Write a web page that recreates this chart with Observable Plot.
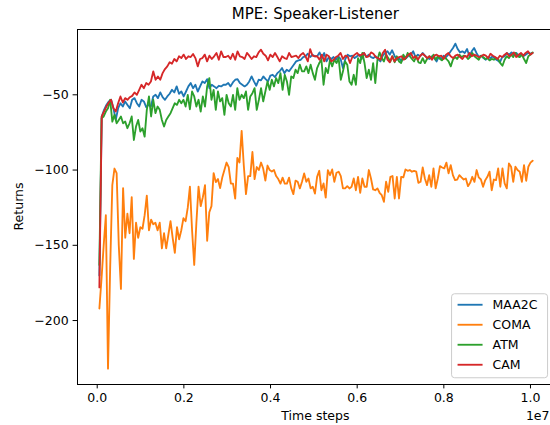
<!DOCTYPE html>
<html><head><meta charset="utf-8">
<script src="https://cdn.jsdelivr.net/npm/d3@7"></script>
<script src="https://cdn.jsdelivr.net/npm/@observablehq/plot@0.6"></script>
<style>body{margin:0;overflow:hidden;background:#fff} svg{display:block}</style>
</head><body><div id="chart"></div>
<script>
const title = "MPE: Speaker-Listener";
const xLabel = "Time steps";
const yLabel = "Returns";
const xOffsetLabel = "1e7";
const series = ["MAA2C", "COMA", "ATM", "CAM"];
const colors = ["#1f77b4", "#ff7f0e", "#2ca02c", "#d62728"];
const xTicks = [0, 0.2, 0.4, 0.6, 0.8, 1.0];
const yTicks = [-200, -150, -100, -50];
const firstStep = 0.005, lastStep = 1.005; // in units of 1e7

const maa2c = [-170,-64.4,-60,-56.7,-54.4,-53.3,-58.9,-66.7,-58.9,-55.6,-57.8,-54.4,-56.7,-58.9,-53.3,-52.2,-55.6,-57.8,-53.3,-54.4,-58.2,-56.7,-57.8,-51.1,-50,-52.2,-48.4,-51.6,-53.3,-51.1,-49.3,-46.7,-48.4,-44.4,-49.3,-47.8,-51.1,-47.8,-44.4,-42.2,-45.6,-43.3,-47.8,-44.4,-41.1,-42.2,-39.6,-45.6,-43.3,-44.4,-45.6,-44,-44.4,-43.3,-43.3,-42.2,-44.4,-41.8,-40,-39.6,-42.2,-43.3,-44.4,-43.3,-41.1,-37.8,-41.1,-44,-40,-40.4,-37.8,-39.6,-41.1,-37.3,-36.7,-38.2,-35.6,-34.4,-32.2,-35.6,-33.3,-34.4,-32.2,-30,-27.8,-27.1,-26.7,-24.9,-24.4,-22.7,-24.9,-23.3,-24.4,
-24.4,-21.8,-25.6,-22.2,-27.8,-24.9,-26.2,-24.9,-26.7,-24.4,-26.2,-32.2,-26.2,-23.3,-24.4,-24,-25.6,-24.4,-23.3,-26.2,-22.2,-24.9,-23.3,-24.9,-25.6,-24.4,-26.2,-27.8,-24,-22.2,-21.1,-23.3,-20.4,-24,-26.7,-25.6,-27.8,-24.4,-25.6,-24,-23.3,-21.1,-24.9,-23.3,-24.4,-22.2,-24,-25.6,-26.2,-24.4,-25.6,-27.8,-24.4,-26.2,-24,-24.9,-23.3,-21.1,-18.9,-16,-19.6,-21.8,-21.1,-22.2,-19.6,-24.4,-21.1,-18.9,-22.2,-24.9,-24,-25.6,-26.7,-24.9,-25.6,-24.4,-26.2,-27.1,-28.4,-24.9,-24.4,-22.2,-23.3,-21.8,-23.3,-22.2,-24,-22.7,-24.4,-23.3,-22.2,-22.7,-22.2];

const coma = [-192,-172,-150,-130,-232,-165,-110,-99,-102,-150,-179,-112,-145,-129,-142,-118,-159,-135,-145,-138,-139,-130,-117,-140,-133,-136,-135,-140,-135,-152,-142,-152,-143,-134,-145,-155,-138,-146,-140,-132,-134,-125,-111,-140,-163,-135,-111,-124,-118,-110,-147,-128,-124,-102,-108,-106,-112,-105,-100,-95,-98,-109,-109,-119,-92,-95,-74,-97,-116,-104,-104,-88,-106,-98,-100,-95,-99,-107,-97,-100,-101,-100,-104,-106,-109,-105,-109,-109,-105,-112,-116,-107,
-107.8,-112.2,-107.8,-102.2,-107.8,-105.6,-112.2,-111.1,-115.6,-104.5,-100.5,-113.4,-108.9,-118.3,-100,-103.4,-99.6,-107.8,-101.8,-101.1,-104,-112.2,-112.2,-110.7,-112.2,-111.1,-105.6,-113.4,-104.5,-115.1,-105.6,-111.1,-111.1,-100,-105.6,-112.9,-113.4,-112.2,-115.1,-116.7,-121.1,-107.8,-114.5,-104.5,-104,-118.9,-104.5,-118.9,-104.5,-104.9,-99.6,-100.5,-100,-101.1,-100.5,-101.1,-108.5,-107.8,-98.3,-105.6,-110,-103.4,-111.1,-98.9,-112.2,-105.6,-97.4,-98.3,-98.9,-95.1,-102.2,-96.7,-103.4,-106.7,-106.3,-103.4,-104.9,-106.3,-105.6,-110.7,-108.5,-104.5,-107.8,-100,-104.9,-106.3,-111.1,-106.7,-104.5,-101.1,-113.4,-106.3,-106.7,-98.9,-111.1,-98.9,-108.9,-112.2,-95.6,-97.8,-107.8,-97.8,-100,-101.1,-107.8,-96.7,-107.1,-97.8,-95.1,-93.8];

const atm = [-163,-65.6,-64.4,-61.1,-58.9,-53.3,-67.8,-63.3,-68.9,-66.7,-64.4,-68.9,-67.8,-72.2,-68.9,-64.4,-80,-71.1,-66.7,-74.4,-72.2,-77.8,-60,-51.1,-64.4,-53.3,-62.2,-57.8,-60,-66.7,-71.1,-66.7,-64.4,-62.2,-58.9,-55.6,-56.7,-53.3,-55.6,-53.3,-57.8,-50,-59.6,-47.8,-51.1,-57.8,-53.3,-61.1,-51.1,-57.8,-44.4,-38.9,-53.3,-46.7,-60,-47.8,-54.4,-52.2,-63.3,-50,-55.6,-57.8,-50,-60,-45.6,-53.3,-50,-52.2,-47.8,-60,-51.1,-48.9,-45.6,-60,-53.3,-45.6,-54.4,-47.8,-41.1,-46.7,-40,-44.4,-38.9,-42.2,-35.6,-46.7,-36.7,-41.1,-50,-37.8,-38.9,-33.3,-35.6,-30,-34.4,-34.4,-31.1,-35.6,-30,-35.6,-40,-32.2,-28.9,-26.7,
-43.3,-32.2,-35.6,-26.7,-31.1,-26.7,-28.9,-25.6,-40,-34.4,-27.8,-30,-41.1,-43.3,-36.7,-43.3,-25.6,-28.9,-22.2,-28.9,-38.9,-33.3,-40,-28.9,-42.2,-26.7,-21.8,-25.6,-27.8,-23.3,-25.6,-27.8,-24.4,-28.4,-24.4,-27.8,-28.9,-23.3,-26.2,-22.2,-24.4,-26.2,-27.8,-24.4,-28.4,-28.9,-25.6,-28.9,-26.2,-24.4,-25.6,-23.3,-26.7,-24.4,-26.2,-27.1,-24.9,-26.2,-27.8,-31.1,-26.7,-24.9,-26.2,-23.3,-24.9,-24,-24.4,-26.2,-24.9,-22.2,-24.4,-25.6,-26.7,-24,-24.9,-26.2,-25.6,-27.1,-26.2,-26.7,-25.6,-26.2,-28.9,-30.7,-26.7,-24.4,-25.6,-23.3,-24.9,-22.2,-24.4,-24.9,-23.3,-26.2,-28.9,-24.4,-23.3,-21.8];

const cam = [-178,-64.4,-61.1,-57.8,-55.1,-53.3,-58.9,-61.1,-55.6,-51.1,-55.1,-52.2,-53.3,-51.6,-50.7,-48.4,-50,-46.7,-43.3,-45.6,-42.2,-43.3,-41.1,-34.4,-40,-37.8,-40,-35.6,-32.9,-31.1,-28.4,-29.3,-26.2,-27.8,-24.4,-25.6,-23.3,-26.2,-24.4,-24.9,-22.9,-25.6,-31.1,-26.2,-25.6,-23.3,-27.8,-24,-26.2,-24.4,-22.2,-26.7,-21.1,-24.9,-24.9,-24,-26.2,-22.7,-26.7,-21.1,-24.4,-24.9,-26.2,-22.2,-24,-26.2,-24.4,-24.9,-21.8,-20,-22.7,-24,-27.1,-23.3,-24.9,-22.2,-24.9,-27.8,-24.4,-25.6,-26.2,-22.2,-24.9,-24.4,-24,-25.6,-23.3,-22.2,-24.4,-27.8,-19.6,-24,-24.4,
-24.4,-26.7,-23.3,-27.8,-23.3,-24.4,-27.8,-26.7,-24.9,-24,-22.2,-26.2,-24,-24.4,-28.9,-24.9,-23.3,-22.2,-24,-23.3,-22.2,-24.9,-24.4,-21.8,-22.7,-24.9,-25.6,-26.7,-22.2,-20,-26.7,-28.4,-24.4,-27.8,-25.6,-24.9,-24.4,-26.7,-24.9,-23.3,-22.2,-25.6,-24.4,-26.7,-24,-22.7,-24,-25.6,-24.4,-26.7,-24,-23.3,-24.4,-24,-26.2,-23.3,-22.2,-24.4,-25.6,-24,-23.3,-24.9,-26.2,-24,-24.9,-22.2,-24.4,-23.3,-24,-24.9,-24.4,-23.3,-24,-25.6,-22.7,-24,-24.9,-26.2,-24,-24.9,-23.3,-22.2,-24.4,-23.3,-21.8,-24.9,-23.3,-22.2,-24,-22.2,-21.1,-23.3,-22.2];

const rows = [];
[maa2c, coma, atm, cam].forEach((vals, k) => {
  const n = vals.length;
  vals.forEach((v, i) => rows.push({series: series[k], step: firstStep + (lastStep - firstStep) * i / (n - 1), value: v}));
});

const W = 550, H = 425, mL = 77, mT = 29, mB = 41, mR = 0;
const xDomain = [-0.0455, 1.0462];  // visible part; full axis extends to 1.055
const xFullMax = 1.055;
const yDomain = [-242.5, -6.6];
const font = "DejaVu Sans";

const chart = Plot.plot({
  width: W, height: H, marginLeft: mL, marginRight: mR, marginTop: mT, marginBottom: mB,
  style: {fontFamily: font, fontSize: "12.5px", color: "#000", background: "#fff", overflow: "visible"},
  x: {domain: xDomain, label: null},
  y: {domain: yDomain, label: null},
  color: {domain: series, range: colors},
  marks: [
    Plot.lineY(rows, {x: "step", y: "value", stroke: "series", z: "series", strokeWidth: 1.85}),
    Plot.ruleX([xDomain[0]], {stroke: "#000", strokeWidth: 1}),
    Plot.ruleY([yDomain[0], yDomain[1]], {stroke: "#000", strokeWidth: 1}),
    Plot.axisX({ticks: xTicks, tickFormat: d => d.toFixed(1), tickSize: 4.4, tickPadding: 4.4, label: null, fill: "#000", stroke: "#000"}),
    Plot.axisY({ticks: yTicks, tickFormat: d => String(d).replace("-", "\u2212"), tickSize: 4.4, tickPadding: 4.4, label: null, fill: "#000", stroke: "#000"})
  ]
});
document.getElementById("chart").appendChild(chart);

const sx = chart.scale("x"), sy = chart.scale("y");
const svg = d3.select(chart);
const cx = (sx.apply(xDomain[0]) + sx.apply(xFullMax)) / 2;
const yTop = sy.apply(yDomain[1]), yBot = sy.apply(yDomain[0]);
const txt = (x, y, s, size, anchor) => svg.append("text").attr("x", x).attr("y", y)
  .attr("text-anchor", anchor).attr("font-family", font).attr("font-size", size).attr("fill", "#000").text(s);

txt(cx, 18.5, title, "15px", "middle");
txt(cx, 420, xLabel, "12.5px", "middle");
txt(W - 0.5, 420, xOffsetLabel, "12.5px", "end");
svg.append("text").attr("transform", `translate(23,${(yTop + yBot) / 2}) rotate(-90)`)
  .attr("text-anchor", "middle").attr("font-family", font).attr("font-size", "12.5px").attr("fill", "#000").text(yLabel);

// legend (lower right)
const lg = svg.append("g");
const lgRight = sx.apply(xFullMax) - 6.25, lgBottom = yBot - 6.25;
const lgW = 96, lgH = 84;
lg.append("rect").attr("x", lgRight - lgW).attr("y", lgBottom - lgH).attr("width", lgW).attr("height", lgH)
  .attr("rx", 3).attr("fill", "#fff").attr("fill-opacity", 0.8).attr("stroke", "#cccccc").attr("stroke-width", 1);
series.forEach((name, k) => {
  const yy = lgBottom - lgH + 11 + 20 * k;
  const x0 = lgRight - lgW + 6;
  lg.append("line").attr("x1", x0).attr("x2", x0 + 25).attr("y1", yy).attr("y2", yy)
    .attr("stroke", colors[k]).attr("stroke-width", 1.85);
  lg.append("text").attr("x", x0 + 35).attr("y", yy + 4.5).attr("text-anchor", "start").attr("font-family", font)
    .attr("font-size", "12.5px").attr("fill", "#000").text(name);
});
</script>
</body></html>
